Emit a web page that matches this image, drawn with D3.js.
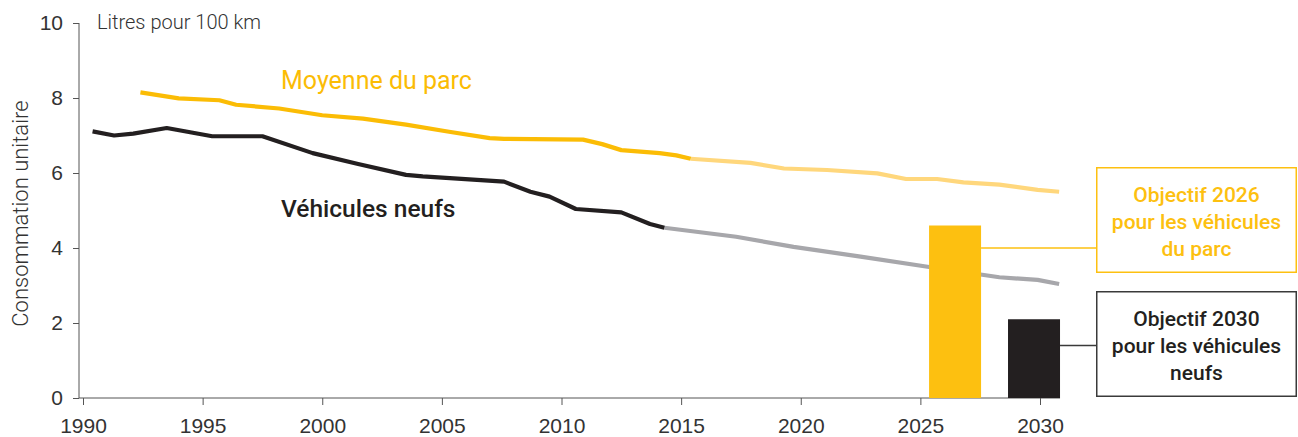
<!DOCTYPE html>
<html>
<head>
<meta charset="utf-8">
<script src="https://cdn.jsdelivr.net/npm/d3@7"></script>
<style>
  body { margin: 0; background: #fff; }
  svg { display: block; font-family: Roboto, "Open Sans", sans-serif; }
</style>
</head>
<body>
<script>
// data (year, litres / 100 km)
const parcHist = [[1992.4, 8.15], [1994.0, 7.99], [1995.7, 7.94], [1996.4, 7.82], [1998.2, 7.72],
  [2000.0, 7.54], [2001.7, 7.45], [2003.5, 7.29], [2005.3, 7.1], [2007.0, 6.93], [2007.6, 6.91],
  [2010.9, 6.89], [2011.7, 6.77], [2012.5, 6.61], [2014.1, 6.53], [2014.8, 6.47], [2015.4, 6.38]]
const parcProj = [[2015.4, 6.38], [2017.9, 6.27], [2019.3, 6.12], [2021.1, 6.08], [2023.2, 5.99],
  [2024.4, 5.84], [2025.7, 5.84], [2026.8, 5.75], [2028.3, 5.69], [2029.9, 5.55], [2030.8, 5.5]]
const neufsHist = [[1990.4, 7.11], [1991.3, 7.0], [1992.1, 7.05], [1993.5, 7.2], [1995.4, 6.98],
  [1997.5, 6.98], [1999.6, 6.53], [2001.5, 6.24], [2003.5, 5.95], [2004.2, 5.91], [2007.6, 5.77],
  [2008.7, 5.5], [2009.5, 5.37], [2010.6, 5.04], [2012.5, 4.95], [2013.7, 4.64], [2014.3, 4.54]]
const neufsProj = [[2014.3, 4.54], [2017.3, 4.3], [2019.7, 4.03], [2022.5, 3.77], [2025.3, 3.5],
  [2028.3, 3.22], [2029.9, 3.15], [2030.8, 3.04]]

const targetYears = [2026.45, 2029.75]
const targetValues = [4.6, 2.1]
const targetLabels = [
  ["Objectif 2026", "pour les véhicules", "du parc"],
  ["Objectif 2030", "pour les véhicules", "neufs"]
]

const xTicks = [1990, 1995, 2000, 2005, 2010, 2015, 2020, 2025, 2030]
const yTicks = [0, 2, 4, 6, 8, 10]

const width = 1298
const height = 437
const yellow = "#fdc010"
const lineYellow = "#fbbc05"
const lightYellow = "#ffd77c"
const black = "#231f20"
const grey = "#a7a7ab"
const axisColor = "#555"
const textColor = "#333"

const axisLeftX = 79
const barWidth = 52
const boxX = 1096, boxW = 201, boxH = 106
const boxTops = [167, 291]
const connectAt = [4.0, 1.4] // where the connectors leave the bars
const targetColors = [yellow, black]
const boxStroke = [yellow, "#3a3a3a"]
const boxText = [yellow, black]

const xScale = d3.scaleLinear([1990, 2030], [83, 1040])
const yScale = d3.scaleLinear([0, 10], [398, 23])

const svg = d3.select("body").append("svg")
  .attr("width", width)
  .attr("height", height)
  .attr("viewBox", [0, 0, width, height])

// axis y
svg.append("g")
  .attr("transform", `translate(${axisLeftX},0)`)
  .call(d3.axisLeft(yScale).tickValues(yTicks).tickSize(6).tickPadding(10).tickSizeOuter(0))
  .call(g => g.select(".domain").attr("stroke", axisColor).attr("d", `M0,${yScale(10)}V${yScale(0)}`))
  .call(g => g.selectAll(".tick line").attr("stroke", axisColor))
  .call(g => g.selectAll(".tick text")
    .attr("font-size", 21)
    .attr("font-weight", 300)
    .attr("fill", textColor))

// axis x
const xRight = xScale(targetYears[1]) + barWidth / 2
svg.append("g")
  .attr("transform", `translate(0,${yScale(0)})`)
  .call(d3.axisBottom(xScale).tickValues(xTicks).tickFormat(d3.format("d")).tickSize(7).tickPadding(13))
  .call(g => g.select(".domain").attr("stroke", axisColor).attr("d", `M${axisLeftX},0H${xRight}`))
  .call(g => g.selectAll(".tick line").attr("stroke", axisColor))
  .call(g => g.selectAll(".tick text")
    .attr("font-size", 21)
    .attr("font-weight", 300)
    .attr("fill", textColor))

// axis titles
svg.append("text")
  .attr("x", 97)
  .attr("y", 29)
  .attr("font-size", 20)
  .attr("font-weight", 300)
  .attr("fill", textColor)
  .text("Litres pour 100 km")

svg.append("text")
  .attr("transform", `translate(28,${(yScale(0) + yScale(10)) / 2 + 3}) rotate(-90)`)
  .attr("text-anchor", "middle")
  .attr("font-size", 22)
  .attr("font-weight", 300)
  .attr("fill", textColor)
  .text("Consommation unitaire")

// lines
const line = d3.line()
  .x(d => xScale(d[0]))
  .y(d => yScale(d[1]))

const series = [
  [parcProj, lightYellow],
  [neufsProj, grey],
  [parcHist, lineYellow],
  [neufsHist, black]
]
svg.append("g")
  .attr("fill", "none")
  .attr("stroke-width", 4.2)
  .attr("stroke-linejoin", "round")
  .selectAll("path")
  .data(series)
  .join("path")
  .attr("stroke", d => d[1])
  .attr("d", d => line(d[0]))

// series labels
svg.append("text")
  .attr("x", 281)
  .attr("y", 89)
  .attr("font-size", 25)
  .attr("font-weight", 400)
  .attr("fill", lineYellow)
  .text("Moyenne du parc")

svg.append("text")
  .attr("x", 281)
  .attr("y", 217)
  .attr("font-size", 24.5)
  .attr("font-weight", 500)
  .attr("fill", black)
  .text("Véhicules neufs")

// target bars
svg.append("g")
  .selectAll("rect")
  .data(targetValues)
  .join("rect")
  .attr("x", (d, i) => xScale(targetYears[i]) - barWidth / 2)
  .attr("y", d => yScale(d))
  .attr("width", barWidth)
  .attr("height", d => yScale(0) - yScale(d))
  .attr("fill", (d, i) => targetColors[i])

// connectors
svg.append("g")
  .attr("stroke-width", 1.5)
  .selectAll("line")
  .data(connectAt)
  .join("line")
  .attr("x1", (d, i) => xScale(targetYears[i]) + barWidth / 2)
  .attr("x2", boxX)
  .attr("y1", d => yScale(d))
  .attr("y2", d => yScale(d))
  .attr("stroke", (d, i) => boxStroke[i])

// callout boxes
const boxes = svg.append("g")
  .selectAll("g")
  .data(targetLabels)
  .join("g")
  .attr("transform", (d, i) => `translate(${boxX},${boxTops[i]})`)

boxes.append("rect")
  .attr("x", 0.75)
  .attr("y", 0.75)
  .attr("width", boxW - 1.5)
  .attr("height", boxH - 1.5)
  .attr("fill", "#fff")
  .attr("stroke-width", 1.5)
  .attr("stroke", (d, i) => boxStroke[i])

boxes.append("text")
  .attr("text-anchor", "middle")
  .attr("font-size", 21)
  .attr("font-weight", 500)
  .attr("fill", (d, i) => boxText[i])
  .selectAll("tspan")
  .data(d => d)
  .join("tspan")
  .attr("x", boxW / 2)
  .attr("y", (d, j) => 35 + j * 27)
  .text(d => d)
</script>
</body>
</html>
